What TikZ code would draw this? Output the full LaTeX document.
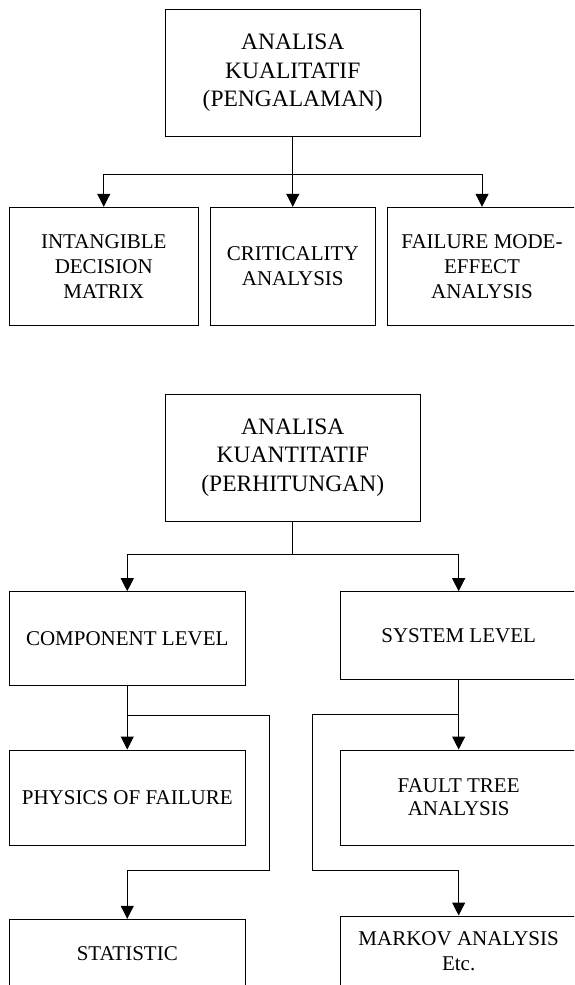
\documentclass[tikz,border=0pt]{standalone}
\usepackage{fontspec}
\setmainfont{Liberation Serif}
\usetikzlibrary{arrows.meta}
\begin{document}
\begin{tikzpicture}[x=1pt,y=-1pt,
  box/.style={draw=black, line width=1pt, rectangle, inner sep=0pt, align=center,
    font=\fontsize{21}{25}\selectfont},
  headbox/.style={box, font=\fontsize{23.5}{28.3}\selectfont},
  arr/.style={line width=1pt, -{Triangle[length=13pt,width=13pt]}},
  ln/.style={line width=1pt}]
\useasboundingbox (0,0) rectangle (574,985);
\clip (0,0) rectangle (574,985);
% ---------- qualitative ----------
\node[headbox, minimum width=254.5pt, minimum height=126.5pt]
  (top1) at (292.75,72.75) {ANALISA\\KUALITATIF\\(PENGALAMAN)};
\node[box, minimum width=189.5pt, minimum height=118.4pt] (b1) at (103.75,266.5)
  {INTANGIBLE\\DECISION\\MATRIX};
\node[box, minimum width=165.5pt, minimum height=118.4pt] (b2) at (292.75,266.5)
  {CRITICALITY\\ANALYSIS};
\node[box, minimum width=190pt, minimum height=118.4pt] (b3) at (482,266.5)
  {FAILURE MODE-\\EFFECT\\ANALYSIS};
\coordinate (j1) at (292.75,174);
\draw[ln] (top1.south) -- (j1);
\draw[arr] (j1) -| (b1.north);
\draw[arr] (j1) -- (b2.north);
\draw[arr] (j1) -| (b3.north);
% ---------- quantitative ----------
\node[headbox, minimum width=254.5pt, minimum height=127pt]
  (top2) at (292.75,457.5) {ANALISA\\KUANTITATIF\\(PERHITUNGAN)};
\node[box, minimum width=236.5pt, minimum height=93.6pt] (comp) at (127.25,638.5)
  {COMPONENT LEVEL};
\node[box, minimum width=236.7pt, minimum height=87.3pt] (sys) at (458.65,635.35)
  {SYSTEM LEVEL};
\node[box, minimum width=236.5pt, minimum height=95pt] (phys) at (127.25,797.5)
  {PHYSICS OF FAILURE};
\node[box, minimum width=236.7pt, minimum height=95pt, font=\fontsize{21}{23.3}\selectfont]
  (fault) at (458.65,797.5) {FAULT TREE\\ANALYSIS};
\node[box, minimum width=236.5pt, minimum height=67.7pt] (stat) at (127.25,953.15)
  {STATISTIC};
\node[box, minimum width=236.7pt, minimum height=71pt] (markov) at (458.65,951.5)
  {MARKOV ANALYSIS\\Etc.};
\coordinate (j2) at (292.75,554.3);
\draw[ln] (top2.south) -- (j2);
\draw[arr] (j2) -| (comp.north);
\draw[arr] (j2) -| (sys.north);
% component level loop
\coordinate (cl0) at (127.25,715.5);
\coordinate (cl1) at (269.5,715.5);
\coordinate (cl2) at (269.5,870.7);
\draw[arr] (comp.south) -- (phys.north);
\draw[arr] (cl0) -- (cl1) -- (cl2) -| (stat.north);
% system level loop
\coordinate (sl0) at (458.65,714.5);
\coordinate (sl1) at (312.3,714.5);
\coordinate (sl2) at (312.3,870.7);
\draw[arr] (sys.south) -- (fault.north);
\draw[arr] (sl0) -- (sl1) -- (sl2) -| (markov.north);
\end{tikzpicture}
\end{document}
